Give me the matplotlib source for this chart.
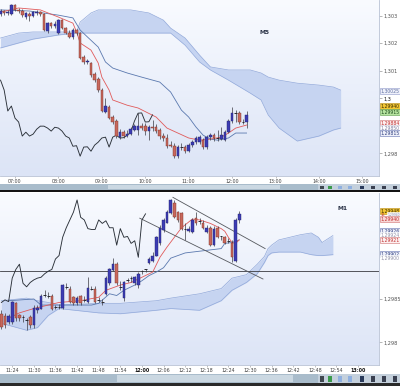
import numpy as np
import matplotlib.pyplot as plt
from matplotlib.patches import Rectangle
from matplotlib.colors import LinearSegmentedColormap

# ---- M5 chart, candles from 06:40, one every 5 minutes ----
m5_open = [1.30306, 1.30317, 1.30310, 1.30306, 1.30339, 1.30321, 1.30317, 1.30295, 1.30306, 1.30299,
           1.30310, 1.30313, 1.30306, 1.30244, 1.30273, 1.30263, 1.30237, 1.30284, 1.30255, 1.30237,
           1.30223, 1.30248, 1.30237, 1.30150, 1.30132, 1.30128, 1.30088, 1.30070, 1.30030, 1.29950,
           1.29968, 1.29932, 1.29917, 1.29859, 1.29877, 1.29863, 1.29870, 1.29885, 1.29885, 1.29899,
           1.29899, 1.29881, 1.29895, 1.29895, 1.29885, 1.29863, 1.29856, 1.29830, 1.29826, 1.29790,
           1.29823, 1.29823, 1.29808, 1.29830, 1.29841, 1.29841, 1.29848, 1.29823, 1.29859, 1.29866,
           1.29856, 1.29852, 1.29848, 1.29877, 1.29917, 1.29946, 1.29946, 1.29914, 1.29914]
m5_high = [1.30324, 1.30321, 1.30321, 1.30342, 1.30342, 1.30328, 1.30324, 1.30313, 1.30313, 1.30317,
           1.30321, 1.30317, 1.30310, 1.30277, 1.30277, 1.30281, 1.30288, 1.30288, 1.30259, 1.30248,
           1.30255, 1.30252, 1.30241, 1.30157, 1.30143, 1.30132, 1.30095, 1.30077, 1.30037, 1.30001,
           1.29975, 1.29939, 1.29925, 1.29888, 1.29885, 1.29885, 1.29895, 1.29906, 1.29946, 1.29910,
           1.29910, 1.29903, 1.29921, 1.29906, 1.29892, 1.29874, 1.29870, 1.29845, 1.29837, 1.29830,
           1.29837, 1.29830, 1.29837, 1.29848, 1.29863, 1.29866, 1.29856, 1.29866, 1.29874, 1.29874,
           1.29885, 1.29895, 1.29885, 1.29925, 1.29968, 1.29957, 1.29954, 1.29925, 1.29954]
m5_low = [1.30299, 1.30302, 1.30302, 1.30302, 1.30317, 1.30310, 1.30295, 1.30288, 1.30281, 1.30295,
          1.30302, 1.30299, 1.30244, 1.30237, 1.30255, 1.30255, 1.30233, 1.30252, 1.30233, 1.30219,
          1.30215, 1.30230, 1.30143, 1.30124, 1.30124, 1.30077, 1.30059, 1.30023, 1.29950, 1.29946,
          1.29925, 1.29906, 1.29856, 1.29852, 1.29856, 1.29859, 1.29866, 1.29881, 1.29866, 1.29885,
          1.29866, 1.29848, 1.29881, 1.29874, 1.29852, 1.29845, 1.29819, 1.29823, 1.29783, 1.29783,
          1.29812, 1.29801, 1.29805, 1.29823, 1.29834, 1.29834, 1.29816, 1.29816, 1.29848, 1.29845,
          1.29845, 1.29848, 1.29845, 1.29874, 1.29910, 1.29914, 1.29906, 1.29906, 1.29892]
m5_close = [1.30317, 1.30310, 1.30313, 1.30339, 1.30321, 1.30317, 1.30302, 1.30310, 1.30299, 1.30313,
            1.30313, 1.30306, 1.30248, 1.30273, 1.30263, 1.30270, 1.30284, 1.30255, 1.30237, 1.30223,
            1.30248, 1.30237, 1.30146, 1.30132, 1.30135, 1.30084, 1.30066, 1.30030, 1.29954, 1.29972,
            1.29928, 1.29914, 1.29863, 1.29877, 1.29863, 1.29870, 1.29888, 1.29899, 1.29899, 1.29892,
            1.29881, 1.29895, 1.29892, 1.29881, 1.29863, 1.29856, 1.29826, 1.29828, 1.29790, 1.29823,
            1.29824, 1.29808, 1.29830, 1.29841, 1.29856, 1.29859, 1.29823, 1.29859, 1.29866, 1.29856,
            1.29857, 1.29866, 1.29877, 1.29917, 1.29946, 1.29947, 1.29914, 1.29915, 1.29940]

m5_tenkan_i = [0, 5, 11, 16, 20, 21, 22, 25, 27, 28, 30, 31, 35, 38, 43, 46, 49, 52, 55, 58, 61, 63, 65, 68]
m5_tenkan = [1.30313, 1.30328, 1.30321, 1.30295, 1.30273, 1.30241, 1.30201, 1.30175, 1.30128, 1.30077,
             1.30030, 1.29994, 1.29975, 1.29965, 1.29932, 1.29892, 1.29874, 1.29856, 1.29848, 1.29852,
             1.29859, 1.29874, 1.29892, 1.29903]
m5_kijun_i = [0, 8, 16, 20, 22, 24, 27, 29, 31, 35, 39, 44, 47, 50, 52, 54, 56, 58, 60, 63, 65, 68]
m5_kijun = [1.30321, 1.30317, 1.30302, 1.30292, 1.30248, 1.30223, 1.30186, 1.30132, 1.30110, 1.30092,
            1.30077, 1.30059, 1.30023, 1.29957, 1.29932, 1.29896, 1.29866, 1.29852, 1.29848, 1.29856,
            1.29874, 1.29874]
m5_cloud_i = [0, 5, 9, 16, 21, 22, 25, 27, 36, 41, 45, 47, 51, 55, 58, 63, 69, 72, 74, 77, 82, 88, 92, 94]
m5_span_a = [1.30219, 1.30237, 1.30241, 1.30241, 1.30241, 1.30277, 1.30310, 1.30321, 1.30321, 1.30310,
             1.30284, 1.30255, 1.30219, 1.30157, 1.30114, 1.30103, 1.30103, 1.30092, 1.30077, 1.30066,
             1.30055, 1.30048, 1.30041, 1.30030]
m5_span_b = [1.30183, 1.30201, 1.30215, 1.30230, 1.30237, 1.30237, 1.30237, 1.30237, 1.30237, 1.30237,
             1.30237, 1.30237, 1.30193, 1.30132, 1.30103, 1.30066, 1.30019, 1.29994, 1.29939, 1.29892,
             1.29845, 1.29863, 1.29885, 1.29892]
m5_xticks = [4, 16, 28, 40, 52, 64, 76, 88, 100]
m5_xlabels = ['07:00', '08:00', '09:00', '10:00', '11:00', '12:00', '13:00', '14:00', '15:00']
m5_yticks = [1.303, 1.302, 1.301, 1.300, 1.298]
m5_ylabels = ['1,303', '1,302', '1,301', '1,3', '1,298']
m5_tags = ['1,30025', '1,29940', '1,29915', '1,29884', '1,29850', '1,29815']

# ---- M1 chart, candles from 11:21, one every minute ----
m1_open = [1.29833, 1.29830, 1.29823, 1.29823, 1.29845, 1.29831, 1.29828, 1.29825, 1.29829, 1.29820,
           1.29837, 1.29839, 1.29854, 1.29855, 1.29854, 1.29840, 1.29840, 1.29840, 1.29865, 1.29862,
           1.29852, 1.29845, 1.29853, 1.29848, 1.29846, 1.29862, 1.29862, 1.29848, 1.29846, 1.29856,
           1.29868, 1.29883, 1.29890, 1.29863, 1.29851, 1.29871, 1.29873, 1.29868, 1.29866, 1.29881,
           1.29883, 1.29891, 1.29894, 1.29900, 1.29914, 1.29929, 1.29938, 1.29949, 1.29961, 1.29950,
           1.29949, 1.29929, 1.29928, 1.29927, 1.29943, 1.29939, 1.29938, 1.29927, 1.29932, 1.29912,
           1.29932, 1.29921, 1.29921, 1.29918, 1.29915, 1.29894, 1.29941]
m1_high = [1.29837, 1.29834, 1.29833, 1.29848, 1.29847, 1.29833, 1.29831, 1.29828, 1.29831, 1.29843,
           1.29843, 1.29856, 1.29860, 1.29858, 1.29856, 1.29843, 1.29844, 1.29867, 1.29868, 1.29865,
           1.29854, 1.29853, 1.29855, 1.29853, 1.29875, 1.29865, 1.29865, 1.29852, 1.29850, 1.29876,
           1.29886, 1.29897, 1.29892, 1.29871, 1.29871, 1.29874, 1.29876, 1.29876, 1.29881, 1.29883,
           1.29885, 1.29898, 1.29904, 1.29922, 1.29935, 1.29943, 1.29952, 1.29965, 1.29964, 1.29951,
           1.29950, 1.29937, 1.29934, 1.29943, 1.29950, 1.29943, 1.29941, 1.29935, 1.29934, 1.29934,
           1.29934, 1.29923, 1.29922, 1.29920, 1.29918, 1.29943, 1.29951]
m1_low = [1.29816, 1.29817, 1.29821, 1.29821, 1.29825, 1.29825, 1.29823, 1.29814, 1.29817, 1.29817,
          1.29834, 1.29838, 1.29852, 1.29851, 1.29837, 1.29838, 1.29838, 1.29839, 1.29861, 1.29845,
          1.29843, 1.29843, 1.29843, 1.29846, 1.29845, 1.29860, 1.29845, 1.29846, 1.29843, 1.29855,
          1.29866, 1.29882, 1.29866, 1.29860, 1.29848, 1.29869, 1.29870, 1.29866, 1.29863, 1.29879,
          1.29881, 1.29890, 1.29892, 1.29899, 1.29912, 1.29927, 1.29937, 1.29948, 1.29943, 1.29939,
          1.29929, 1.29918, 1.29927, 1.29926, 1.29935, 1.29936, 1.29931, 1.29926, 1.29911, 1.29911,
          1.29920, 1.29918, 1.29913, 1.29914, 1.29892, 1.29892, 1.29938]
m1_close = [1.29818, 1.29820, 1.29830, 1.29846, 1.29828, 1.29828, 1.29829, 1.29826, 1.29820, 1.29840,
            1.29840, 1.29854, 1.29855, 1.29854, 1.29839, 1.29841, 1.29841, 1.29866, 1.29864, 1.29846,
            1.29845, 1.29851, 1.29845, 1.29849, 1.29863, 1.29861, 1.29846, 1.29849, 1.29847, 1.29874,
            1.29884, 1.29890, 1.29868, 1.29864, 1.29869, 1.29872, 1.29874, 1.29875, 1.29879, 1.29882,
            1.29884, 1.29896, 1.29900, 1.29921, 1.29932, 1.29941, 1.29950, 1.29964, 1.29944, 1.29941,
            1.29931, 1.29930, 1.29930, 1.29941, 1.29937, 1.29940, 1.29932, 1.29932, 1.29912, 1.29931,
            1.29921, 1.29922, 1.29914, 1.29917, 1.29898, 1.29941, 1.29948]

m1_tenkan_i = [2, 5, 9, 16, 22, 27, 29, 33, 36, 39, 42, 44, 46, 48, 50, 53, 55, 58, 61, 62, 63, 64, 65, 66]
m1_tenkan = [1.29828, 1.29834, 1.29839, 1.29846, 1.29848, 1.29852, 1.29860, 1.29866, 1.29869, 1.29875,
             1.29881, 1.29898, 1.29910, 1.29921, 1.29932, 1.29942, 1.29941, 1.29937, 1.29931, 1.29928,
             1.29921, 1.29915, 1.29914, 1.29918]
m1_kijun_i = [2, 9, 11, 18, 25, 27, 30, 32, 34, 37, 39, 41, 43, 45, 47, 49, 51, 57, 61, 62, 64, 66]
m1_kijun = [1.29848, 1.29850, 1.29843, 1.29843, 1.29843, 1.29845, 1.29856, 1.29854, 1.29860, 1.29866,
            1.29871, 1.29877, 1.29881, 1.29886, 1.29897, 1.29900, 1.29903, 1.29906, 1.29908, 1.29914,
            1.29915, 1.29918]
m1_cloud_i = [0, 7, 10, 13, 16, 27, 33, 43, 47, 55, 61, 64, 68, 71, 73, 74, 75, 77, 80, 83, 86, 88, 89, 92]
m1_span_a = [1.29848, 1.29851, 1.29848, 1.29846, 1.29843, 1.29845, 1.29845, 1.29848, 1.29851, 1.29856,
             1.29862, 1.29874, 1.29878, 1.29890, 1.29899, 1.29908, 1.29912, 1.29918, 1.29921, 1.29924,
             1.29926, 1.29921, 1.29915, 1.29923]
m1_span_b = [1.29822, 1.29814, 1.29817, 1.29831, 1.29839, 1.29834, 1.29833, 1.29837, 1.29839, 1.29837,
             1.29848, 1.29860, 1.29869, 1.29879, 1.29892, 1.29900, 1.29903, 1.29904, 1.29904, 1.29904,
             1.29901, 1.29900, 1.29900, 1.29901]
m1_channel_upper = [(47.6, 1.29967), (73.2, 1.29908)]
m1_channel_lower = [(38.4, 1.29943), (72.6, 1.29873)]
m1_hline = 1.29882
m1_xticks = [3, 9, 15, 21, 27, 33, 39, 45, 51, 57, 63, 69, 75, 81, 87, 93, 99]
m1_xlabels = ['11:24', '11:30', '11:36', '11:42', '11:48', '11:54', '12:00', '12:06', '12:12',
              '12:18', '12:24', '12:30', '12:36', '12:42', '12:48', '12:54', '13:00']
m1_yticks = [1.2985, 1.298]
m1_ylabels = ['1,2985', '1,298']
m1_tags = ['1,29948', '1,29940', '1,29940', '1,29926', '1,29924', '1,29921', '1,29902', '1,29900']

W, H = 400, 386
fig = plt.figure(figsize=(W / 100, H / 100), dpi=100)
fig.patch.set_facecolor('white')

bg_cmap = LinearSegmentedColormap.from_list('bg', ['#dce4f6', '#f9fbff'])


def px_axes(x0, y0, x1, y1):
    return fig.add_axes([x0 / W, 1 - y1 / H, (x1 - x0) / W, (y1 - y0) / H])


def px_rect(x0, y0, x1, y1, color, z=0):
    fig.patches.append(Rectangle((x0 / W, 1 - y1 / H), (x1 - x0) / W, (y1 - y0) / H,
                                 transform=fig.transFigure, fc=color, ec='none', zorder=z))


def candles(ax, o, h, l, c, w=0.72):
    for i in range(len(o)):
        ax.vlines(i, l[i], h[i], color='#3a3a42', lw=0.5, zorder=3)
        lo, hi = min(o[i], c[i]), max(o[i], c[i])
        if hi - lo < 0.000015:
            ax.hlines(c[i], i - w / 2, i + w / 2, color='#2a2a30', lw=0.7, zorder=4)
        elif c[i] > o[i]:
            ax.add_patch(Rectangle((i - w / 2, lo), w, hi - lo, fc='#3c3cb4', ec='#22226a', lw=0.3, zorder=4))
        else:
            ax.add_patch(Rectangle((i - w / 2, lo), w, hi - lo, fc='#c8685c', ec='#7a3228', lw=0.3, zorder=4))


def setup(ax, xlim, ylim, xt, xl, yt, yl, bold=()):
    ax.imshow(np.linspace(0, 1, 256).reshape(-1, 1), cmap=bg_cmap, aspect='auto',
              extent=[0, 1, 0, 1], transform=ax.transAxes, zorder=0, origin='lower')
    ax.set_xlim(*xlim)
    ax.set_ylim(*ylim)
    for s in ['top', 'left']:
        ax.spines[s].set_visible(False)
    for s in ['right', 'bottom']:
        ax.spines[s].set_color('#b8c2d4')
        ax.spines[s].set_linewidth(0.6)
    ax.yaxis.tick_right()
    ax.set_yticks(yt)
    ax.set_yticklabels(yl)
    ax.set_xticks(xt)
    ax.set_xticklabels(xl)
    ax.tick_params(axis='y', length=2, width=0.4, color='#808080', labelsize=3.6, labelcolor='#505050', pad=1.5)
    ax.tick_params(axis='x', length=1.2, width=0.4, color='#909090', labelsize=3.4, labelcolor='#404040', pad=1.2)
    for t in ax.get_xticklabels():
        if t.get_text() in bold:
            t.set_fontweight('bold')
            t.set_color('#101010')


def tag(ypx, text, fc, ec, tc, x=380.5, size=3.3):
    fig.text(x / W, 1 - ypx / H, text, fontsize=size, color=tc, va='center', ha='left',
             bbox=dict(boxstyle='square,pad=0.2', fc=fc, ec=ec, lw=0.4))


def chikou(ax, close, shift=26):
    close = np.asarray(close)
    xs = np.arange(len(close) - shift)
    ax.plot(xs, close[shift:], color='#2a3038', lw=0.65, zorder=2.6)


# ---------- top panel (M5) ----------
ax1 = px_axes(0, 0, 379, 176)
setup(ax1, (-0.15, 104.6), (1.29718, 1.30357), m5_xticks, m5_xlabels, m5_yticks, m5_ylabels)
ax1.get_yticklabels()[3].set_color('#101010')
ax1.fill_between(m5_cloud_i, m5_span_a, m5_span_b, color='#c6d4f1', lw=0, zorder=1)
ax1.plot(m5_cloud_i, m5_span_a, color='#92a9da', lw=0.5, zorder=1.5)
ax1.plot(m5_cloud_i, m5_span_b, color='#92a9da', lw=0.5, zorder=1.5)
chikou(ax1, m5_close)
ax1.plot(m5_kijun_i, m5_kijun, color='#5a78ae', lw=0.6, zorder=2)
ax1.plot(m5_tenkan_i, m5_tenkan, color='#e05a5a', lw=0.6, zorder=2)
candles(ax1, m5_open, m5_high, m5_low, m5_close)
fig.text(265 / W, 1 - 33 / H, 'M5', fontsize=4.3, fontweight='bold', color='#2c3448', ha='center', va='center')

# ---------- bottom panel (M1) ----------
ax2 = px_axes(0, 193, 379, 365)
setup(ax2, (-0.39, 104.8), (1.29774, 1.29972), m1_xticks, m1_xlabels, m1_yticks, m1_ylabels,
      bold=('12:00', '13:00'))
ax2.fill_between(m1_cloud_i, m1_span_a, m1_span_b, color='#c6d4f1', lw=0, zorder=1)
ax2.plot(m1_cloud_i, m1_span_a, color='#92a9da', lw=0.5, zorder=1.5)
ax2.plot(m1_cloud_i, m1_span_b, color='#92a9da', lw=0.5, zorder=1.5)
ax2.axhline(m1_hline, color='#3a3a40', lw=0.6, zorder=2)
chikou(ax2, m1_close)
ax2.plot(m1_kijun_i, m1_kijun, color='#5a78ae', lw=0.6, zorder=2)
ax2.plot(m1_tenkan_i, m1_tenkan, color='#e05a5a', lw=0.6, zorder=2)
for seg in (m1_channel_upper, m1_channel_lower):
    ax2.plot([p[0] for p in seg], [p[1] for p in seg], color='#55585e', lw=0.6, zorder=2.5)
candles(ax2, m1_open, m1_high, m1_low, m1_close)
fig.text(343 / W, 1 - 208 / H, 'M1', fontsize=4.3, fontweight='bold', color='#2c3448', ha='center', va='center')

# ---------- price tags on the right scale ----------
top_tag_y = [91, 106, 112, 123, 128, 133]
top_tag_style = [('#eef0fa', '#8c96c8', '#6070a0'), ('#f2c632', '#b88a18', '#3a2a00'),
                 ('#b6e4a0', '#5c9c4c', '#1c4a1c'), ('#fdf0f0', '#d07070', '#c03030'),
                 ('#ffffff', '#c8c8d8', '#8080a0'), ('#eef0fa', '#6070b0', '#304080')]
for y, t, st in zip(top_tag_y, m5_tags, top_tag_style):
    tag(y, t, *st)

bot_tag_y = [211, 215, 219, 231, 235, 240, 254, 258]
bot_tag_style = [('#f2c632', '#b88a18', '#3a2a00'), ('#ffffff', '#ffffff', '#8080a0'),
                 ('#f8d8d8', '#d07070', '#c03030'), ('#eef0fa', '#6070b0', '#304080'),
                 ('#ffffff', '#ffffff', '#9090a8'), ('#fdf0f0', '#d07070', '#c03030'),
                 ('#eef0fa', '#6070b0', '#304080'), ('#ffffff', '#ffffff', '#9090a8')]
for k, (y, t, st) in enumerate(zip(bot_tag_y, m1_tags, bot_tag_style)):
    if k == 1:
        tag(y, t, *st, x=388, size=2.2)
    else:
        tag(y, t, *st)
fig.text(381 / W, 1 - 215 / H, '15', fontsize=2.6, color='#c03030', va='center', ha='left')

# ---------- scroll bars / toolbar strips ----------
for y0, y1, tx0, tx1 in [(184, 190, 108, 280), (374, 383, 117, 293)]:
    px_rect(0, y0, 400, y1, '#a9bccb')
    px_rect(tx0, y0 + 0.8, tx1, y1 - 0.8, '#cbd8e2')
    px_rect(318, y0, 400, y1, '#c4d0dc')
    for xi, col in [(320, '#404850'), (328, '#3c9a4c'), (338, '#8fb0e0'), (348, '#8fb0e0'),
                    (360, '#2a3a5a'), (371, '#3a4050'), (382, '#3a4050'), (393, '#3a4050')]:
        px_rect(xi, y0 + 1.5, xi + 4, y1 - 1.2, col, z=1)
px_rect(0, 190, 400, 192, '#141414')
px_rect(0, 383, 400, 386, '#2a2a2a')

fig.savefig('out.png', dpi=100)
